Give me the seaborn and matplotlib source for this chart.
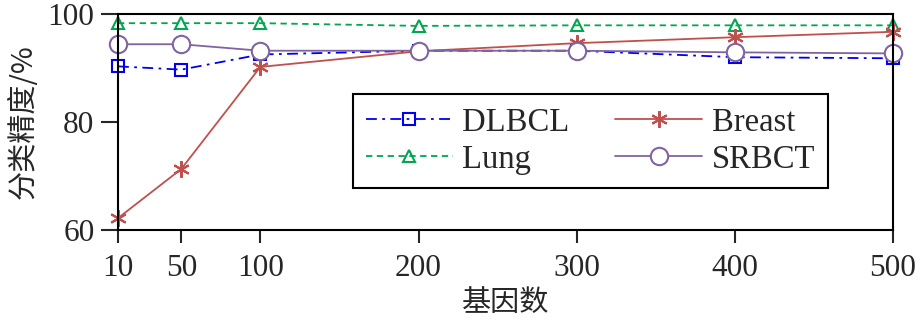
import matplotlib
matplotlib.use("Agg")
import matplotlib.pyplot as plt
import seaborn as sns
import pandas as pd

genes = [10, 50, 100, 200, 300, 400, 500]
dlbcl = [90.3, 89.7, 92.5, 93.2, 93.2, 92.0, 91.8]
lung = [98.3, 98.3, 98.3, 97.8, 97.9, 97.9, 97.9]
breast = [62.2, 71.3, 90.2, 93.1, 94.6, 95.7, 96.7]
srbct = [94.4, 94.4, 93.2, 93.2, 93.2, 92.9, 92.7]
xticks = [10, 50, 100, 200, 300, 400, 500]
yticks = [60, 80, 100]

sns.set_style("ticks")
plt.rcParams['font.family'] = ['Liberation Serif', 'Noto Sans CJK SC']
plt.rcParams['axes.linewidth'] = 1.5

fig = plt.figure(figsize=(9.21, 3.21), dpi=100)
ax = fig.add_axes([118/921, 1 - 230/321, (893-118)/921, (230-14)/321])

series = [
    ("DLBCL", dlbcl, dict(color="#0000EE", linestyle=(0, (6, 3, 1.5, 3)), marker="s", markersize=8.5,
                          markerfacecolor="none", markeredgecolor="#0000EE")),
    ("Lung", lung, dict(color="#00A650", linestyle=(0, (3.5, 2.5)), marker="^", markersize=9,
                        markerfacecolor="none", markeredgecolor="#00A650")),
    ("Breast", breast, dict(color="#C0504D", linestyle="-", marker=(6, 2, 0), markersize=12,
                            markeredgecolor="#C0504D")),
    ("SRBCT", srbct, dict(color="#8064A2", linestyle="-", marker="o", markersize=12.5,
                          markerfacecolor="white", markeredgecolor="#8064A2")),
]

for name, vals, kw in series:
    df = pd.DataFrame({"genes": genes, "acc": vals})
    sns.lineplot(data=df, x="genes", y="acc", ax=ax, label=name, linewidth=1.3,
                 markeredgewidth=1.5, clip_on=False, **kw)

ax.set_xlim(10, 500)
ax.set_ylim(60, 100)
ax.set_xticks(xticks)
ax.set_yticks(yticks)
ax.tick_params(axis='x', direction='out', length=9, width=1.5, labelsize=22.5, pad=8)
ax.tick_params(axis='y', direction='out', length=12, width=1.5, labelsize=22.5, pad=5)
for s in ax.spines.values():
    s.set_color('black')
    s.set_linewidth(1.5)

ax.set_xlabel("基因数", fontsize=21, family=['Noto Sans CJK SC'], labelpad=4)
ax.set_ylabel("分类精度/%", fontsize=21, family=['Noto Sans CJK SC'], labelpad=6)

handles, labels = ax.get_legend_handles_labels()
leg = ax.legend(handles, labels, ncol=2, loc='upper left', bbox_to_anchor=((353-118)/775, (230-94)/216),
                fontsize=23.5, frameon=True, fancybox=False, edgecolor='black', framealpha=1,
                handlelength=2.65, handletextpad=0.3, columnspacing=1.4, labelspacing=0.2,
                borderpad=0.4, borderaxespad=0)
leg.get_frame().set_linewidth(1.5)

fig.savefig("out.png", dpi=100)
